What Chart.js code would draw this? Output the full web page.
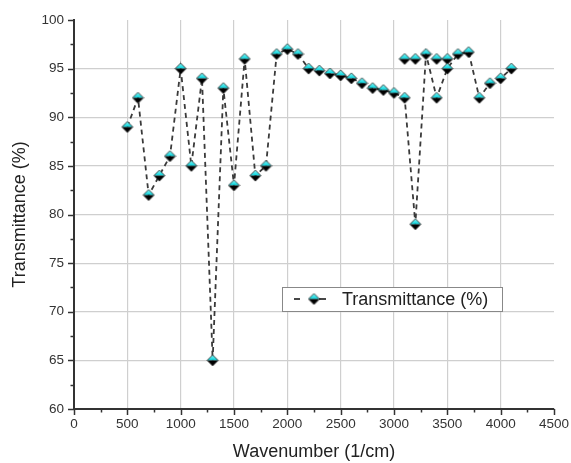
<!DOCTYPE html>
<html>
<head>
<meta charset="utf-8">
<script src="https://cdn.jsdelivr.net/npm/chart.js@4"></script>
<style>
  html, body { margin: 0; padding: 0; background: #fff; }
  #wrap { width: 571px; height: 463px; }
</style>
</head>
<body>
<div id="wrap"><canvas id="irChart" width="571" height="463"></canvas></div>
<script>
// values
const wavenumbers = [500, 600, 700, 800, 900, 1000, 1100, 1200, 1300, 1400, 1500, 1600, 1700, 1800, 1900,
    2000, 2100, 2200, 2300, 2400, 2500, 2600, 2700, 2800, 2900, 3000, 3100, 3200, 3300, 3400, 3500,
    3600, 3700, 3800, 3900, 4000, 4100];
const transmittance = [89, 92, 82, 84, 86, 95, 85, 94, 65, 93, 83, 96, 84, 85, 96.5,
    97, 96.5, 95, 94.8, 94.5, 94.3, 94, 93.5, 93, 92.8, 92.5, 92, 79, 96.5, 92, 95,
    96.5, 96.7, 92, 93.5, 94, 95];
// the row of markers sitting around 96 between 3100 and 3500
const extraWavenumbers = [3100, 3200, 3400, 3500];
const extraTransmittance = [96, 96, 96, 96];

const xTicks = { min: 0, max: 4500, major: 500, minor: 250 };
const yTicks = { min: 60, max: 100, major: 5, minor: 2.5 };

const FONT = "'Liberation Sans', Arial, sans-serif";
const AXIS = '#333';

function makeDiamond(r) {
    const c = document.createElement('canvas');
    const s = r * 2 + 2;
    c.width = s; c.height = s;
    const g = c.getContext('2d');
    const m = s / 2;
    // top half cyan
    const grad = g.createLinearGradient(0, 1, 0, m);
    grad.addColorStop(0, '#8ff6f6');
    grad.addColorStop(1, '#00d3dc');
    g.beginPath();
    g.moveTo(m, m - r); g.lineTo(m + r, m); g.lineTo(m - r, m); g.closePath();
    g.fillStyle = grad; g.fill();
    // bottom half black
    g.beginPath();
    g.moveTo(m - r, m); g.lineTo(m + r, m); g.lineTo(m, m + r); g.closePath();
    g.fillStyle = '#000'; g.fill();
    g.beginPath();
    g.moveTo(m, m - r); g.lineTo(m + r, m); g.lineTo(m, m + r); g.lineTo(m - r, m); g.closePath();
    g.strokeStyle = '#222'; g.lineWidth = 0.8; g.stroke();
    return c;
}
const diamond = makeDiamond(5.5);

// outward major/minor tick marks like the original plot
const tickMarks = {
    id: 'tickMarks',
    afterDraw(chart) {
        const ctx = chart.ctx;
        const xs = chart.scales.x, ys = chart.scales.y;
        ctx.save();
        ctx.strokeStyle = AXIS;
        ctx.lineWidth = 1.5;
        for (let v = xTicks.min; v <= xTicks.max; v += xTicks.minor) {
            const px = Math.round(xs.getPixelForValue(v)) + 0.5;
            const len = v % xTicks.major === 0 ? 6 : 3.5;
            ctx.beginPath(); ctx.moveTo(px, ys.bottom); ctx.lineTo(px, ys.bottom + len); ctx.stroke();
        }
        for (let v = yTicks.min; v <= yTicks.max; v += yTicks.minor) {
            const py = Math.round(ys.getPixelForValue(v)) + 0.5;
            const len = v % yTicks.major === 0 ? 6 : 3.5;
            ctx.beginPath(); ctx.moveTo(xs.left, py); ctx.lineTo(xs.left - len, py); ctx.stroke();
        }
        ctx.restore();
    }
};

// legend box inside the plot
const insideLegend = {
    id: 'insideLegend',
    afterDraw(chart) {
        const ctx = chart.ctx;
        const a = chart.chartArea;
        const bx = a.left + 208, by = a.top + 267, bw = 220, bh = 24;
        ctx.save();
        ctx.fillStyle = '#fff';
        ctx.fillRect(bx, by, bw, bh);
        ctx.strokeStyle = '#888';
        ctx.lineWidth = 1;
        ctx.strokeRect(bx + 0.5, by + 0.5, bw, bh);
        const cy = by + bh / 2;
        ctx.strokeStyle = '#333';
        ctx.lineWidth = 1.8;
        ctx.beginPath(); ctx.moveTo(bx + 12, cy); ctx.lineTo(bx + 18, cy); ctx.stroke();
        ctx.beginPath(); ctx.moveTo(bx + 37, cy); ctx.lineTo(bx + 44, cy); ctx.stroke();
        ctx.drawImage(diamond, bx + 32 - diamond.width / 2, cy - diamond.height / 2);
        ctx.fillStyle = '#222';
        ctx.font = '18px ' + FONT;
        ctx.textBaseline = 'middle';
        ctx.fillText('Transmittance (%)', bx + 60, cy + 1);
        ctx.restore();
    }
};

const mainPoints = wavenumbers.map((x, i) => ({ x: x, y: transmittance[i] }));
const extraPoints = extraWavenumbers.map((x, i) => ({ x: x, y: extraTransmittance[i] }));

new Chart(document.getElementById('irChart'), {
    type: 'line',
    data: {
        datasets: [
            {
                label: 'Transmittance (%)',
                data: mainPoints,
                borderColor: '#3a3a3a',
                borderWidth: 1.8,
                borderDash: [5, 4],
                tension: 0,
                pointStyle: diamond,
                pointRadius: 5
            },
            {
                label: 'extra',
                data: extraPoints,
                showLine: false,
                pointStyle: diamond,
                pointRadius: 5
            }
        ]
    },
    options: {
        responsive: false,
        devicePixelRatio: 1,
        animation: false,
        layout: { padding: { top: 20, right: 17, left: 0, bottom: 0 } },
        scales: {
            x: {
                type: 'linear',
                min: xTicks.min, max: xTicks.max,
                afterFit: (s) => { s.height = 54; s.paddingLeft = 0; s.paddingRight = 0; },
                ticks: {
                    stepSize: xTicks.major, color: AXIS, font: { family: FONT, size: 13.5 }, padding: 7, maxRotation: 0,
                    callback: (v) => String(v)
                },
                grid: {
                    drawTicks: false,
                    lineWidth: 1.2,
                    color: (c) => (c.tick && c.tick.value === xTicks.max) ? 'rgba(0,0,0,0)' : '#cfcfcf'
                },
                border: { color: AXIS, width: 2 },
                title: { display: true, text: 'Wavenumber (1/cm)', color: '#222', font: { family: FONT, size: 18 }, padding: { top: 0, bottom: 0 } }
            },
            y: {
                min: yTicks.min, max: yTicks.max,
                afterFit: (s) => { s.width = 74; s.paddingTop = 0; s.paddingBottom = 0; },
                ticks: { stepSize: yTicks.major, color: AXIS, font: { family: FONT, size: 13.5 }, padding: 10, callback: (v) => String(v) },
                grid: {
                    drawTicks: false,
                    lineWidth: 1.2,
                    color: (c) => (c.tick && c.tick.value === yTicks.max) ? 'rgba(0,0,0,0)' : '#cfcfcf'
                },
                border: { color: AXIS, width: 2 },
                title: { display: true, text: 'Transmittance (%)', color: '#222', font: { family: FONT, size: 18 }, padding: { top: 9, bottom: 0 } }
            }
        },
        plugins: {
            legend: { display: false },
            tooltip: { enabled: false }
        }
    },
    plugins: [tickMarks, insideLegend]
});
</script>
</body>
</html>
